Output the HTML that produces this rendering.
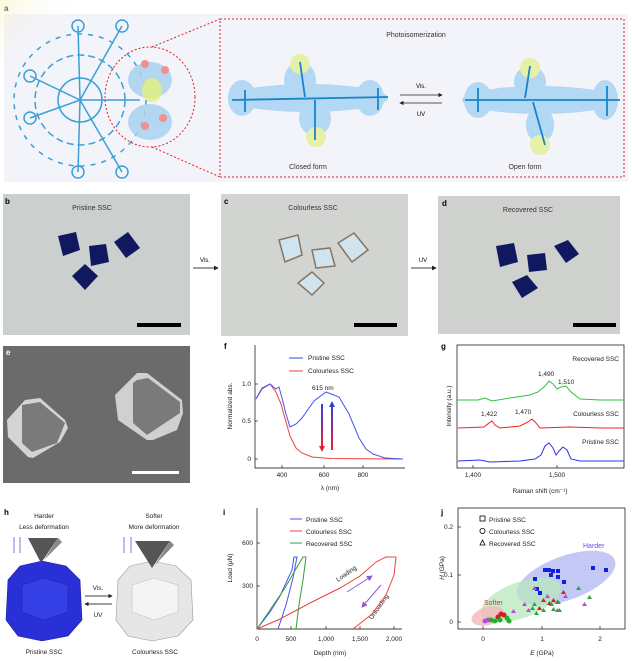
<!DOCTYPE html>
<html><head><meta charset="utf-8"><style>
body{margin:0;background:#fff}
svg{display:block;font-family:"Liberation Sans",sans-serif}
</style></head><body>
<svg width="632" height="661" viewBox="0 0 632 661" xmlns="http://www.w3.org/2000/svg">
<defs>
<radialGradient id="sun" cx="0" cy="0" r="1"><stop offset="0" stop-color="#fff45a"/><stop offset="0.5" stop-color="#fbf6a8" stop-opacity="0.7"/><stop offset="1" stop-color="#f3f3fa" stop-opacity="0"/></radialGradient>
<linearGradient id="rb" x1="0" y1="0" x2="0" y2="1"><stop offset="0" stop-color="#3040e0"/><stop offset="1" stop-color="#f02030"/></linearGradient>
<marker id="ah" markerWidth="6" markerHeight="6" refX="5" refY="3" orient="auto"><path d="M0,0 L6,3 L0,6z" fill="#222"/></marker>
<marker id="ap" markerWidth="6" markerHeight="6" refX="5" refY="3" orient="auto"><path d="M0,0 L6,3 L0,6z" fill="#8a5cd0"/></marker>
</defs>
<!-- panel a -->
<text x="4" y="11" font-size="8" font-weight="bold">a</text>
<rect x="4" y="14" width="624" height="168" fill="#f3f3fa"/>
<circle cx="5" cy="15" r="85" fill="url(#sun)"/>
<g stroke="#3aa0d8" stroke-width="1.5" fill="none">
<circle cx="80" cy="100" r="22"/><circle cx="80" cy="100" r="45" stroke-dasharray="7 4"/>
<circle cx="80" cy="100" r="66" stroke-dasharray="5 6"/>
<circle cx="78" cy="26" r="6"/><circle cx="122" cy="26" r="6"/><circle cx="78" cy="172" r="6"/><circle cx="122" cy="172" r="6"/><circle cx="30" cy="76" r="6"/><circle cx="30" cy="118" r="6"/>
<path d="M30 76 L80 100 L122 26 M30 118 L80 100 L122 172 M78 26 L80 100 L78 172 M80 100 L140 100"/>
</g>
<g fill="#a8d2f0" opacity="0.85"><ellipse cx="150" cy="80" rx="22" ry="18"/><ellipse cx="150" cy="122" rx="22" ry="18"/></g>
<ellipse cx="152" cy="90" rx="10" ry="12" fill="#e4f07a" opacity="0.8"/>
<circle cx="145" cy="64" r="4" fill="#f09090"/><circle cx="165" cy="70" r="4" fill="#f09090"/><circle cx="145" cy="126" r="4" fill="#f09090"/><circle cx="163" cy="118" r="4" fill="#f09090"/>
<ellipse cx="150" cy="97" rx="45" ry="50" fill="none" stroke="#d22" stroke-dasharray="2 2"/>
<line x1="152" y1="47" x2="220" y2="19" stroke="#d22" stroke-dasharray="2 2"/>
<line x1="152" y1="147" x2="220" y2="177" stroke="#d22" stroke-dasharray="2 2"/>
<rect x="220" y="19" width="404" height="158" fill="none" stroke="#d22" stroke-dasharray="2 2"/>
<text x="416" y="37" font-size="7" text-anchor="middle" fill="#333">Photoisomerization</text>
<g fill="#a8d4f2" opacity="0.85">
<ellipse cx="308" cy="98" rx="80" ry="14"/><ellipse cx="300" cy="80" rx="16" ry="18"/><ellipse cx="315" cy="118" rx="16" ry="18"/><ellipse cx="242" cy="98" rx="14" ry="18"/><ellipse cx="370" cy="98" rx="14" ry="18"/>
<ellipse cx="540" cy="100" rx="78" ry="14"/><ellipse cx="530" cy="82" rx="16" ry="16"/><ellipse cx="540" cy="125" rx="14" ry="18"/><ellipse cx="478" cy="100" rx="14" ry="18"/><ellipse cx="605" cy="100" rx="13" ry="20"/>
</g>
<g fill="#e7f0a8"><circle cx="300" cy="64" r="10"/><circle cx="316" cy="137" r="10"/><circle cx="530" cy="68" r="10"/><circle cx="540" cy="145" r="10"/></g>
<g stroke="#1a84c8" stroke-width="1.8" fill="none"><path d="M232 100 L388 97 M300 62 L305 97 M315 100 L315 140 M465 100 L620 100 M530 66 L525 98 M533 102 L545 145 M245 90 L245 112 M378 88 L378 110 M478 88 L478 112 M607 86 L607 116"/></g>
<line x1="400" y1="95" x2="442" y2="95" stroke="#222" stroke-width="0.7" marker-end="url(#ah)"/>
<line x1="442" y1="103" x2="400" y2="103" stroke="#222" stroke-width="0.7" marker-end="url(#ah)"/>
<text x="421" y="88" font-size="6" text-anchor="middle">Vis.</text>
<text x="421" y="116" font-size="6" text-anchor="middle">UV</text>
<text x="308" y="169" font-size="7" text-anchor="middle" fill="#333">Closed form</text>
<text x="525" y="169" font-size="7" text-anchor="middle" fill="#333">Open form</text>
<!-- b c d -->
<rect x="3" y="194" width="187" height="141" fill="#cbd0cf"/>
<rect x="221" y="194" width="187" height="142" fill="#d2d4d1"/>
<rect x="438" y="196" width="182" height="138" fill="#cfd1ce"/>
<text x="5" y="204" font-size="8" font-weight="bold">b</text>
<text x="224" y="204" font-size="8" font-weight="bold">c</text>
<text x="442" y="206" font-size="8" font-weight="bold">d</text>
<text x="92" y="210" font-size="7" text-anchor="middle" fill="#333">Pristine SSC</text>
<text x="313" y="210" font-size="7" text-anchor="middle" fill="#333">Colourless SSC</text>
<text x="528" y="212" font-size="7" text-anchor="middle" fill="#333">Recovered SSC</text>
<g fill="#101860">
<path d="M58 236 L76 232 L80 250 L63 256z"/><path d="M89 246 L106 244 L109 262 L91 266z"/><path d="M114 242 L128 232 L140 248 L126 258z"/><path d="M72 276 L85 264 L98 276 L85 290z"/>
<path d="M496 246 L514 243 L518 262 L500 267z"/><path d="M527 255 L545 253 L547 270 L529 272z"/><path d="M554 246 L568 240 L579 254 L566 263z"/><path d="M512 282 L527 275 L538 288 L522 298z"/>
</g>
<g fill="#cfe4ef" stroke="#8a7560" stroke-width="1.5">
<path d="M279 240 L298 235 L302 255 L285 262z"/><path d="M312 250 L330 248 L335 266 L316 268z"/><path d="M338 243 L354 233 L368 250 L352 262z"/><path d="M298 283 L312 272 L324 283 L312 295z"/>
</g>
<rect x="137" y="323" width="44" height="4" fill="#000"/><rect x="354" y="323" width="43" height="4" fill="#000"/><rect x="573" y="323" width="43" height="4" fill="#000"/>
<line x1="193" y1="268" x2="218" y2="268" stroke="#000" stroke-width="0.8" marker-end="url(#ah)"/>
<text x="205" y="262" font-size="6" text-anchor="middle">Vis.</text>
<line x1="411" y1="268" x2="436" y2="268" stroke="#000" stroke-width="0.8" marker-end="url(#ah)"/>
<text x="423" y="262" font-size="6" text-anchor="middle">UV</text>
<!-- e -->
<rect x="3" y="346" width="187" height="137" fill="#6b6b6b"/>
<text x="6" y="355" font-size="8" font-weight="bold" fill="#fff">e</text>
<path d="M25 400 L40 398 L65 420 L68 428 L60 442 L33 458 L28 457 L8 437 L7 420z" fill="#d4d4d4"/>
<path d="M22 405 L40 402 L65 423 L57 443 L32 452 L22 443z" fill="#7a7a7a"/>
<path d="M137 373 L147 373 L182 400 L183 413 L177 430 L153 440 L147 440 L118 420 L115 395z" fill="#d0d0d0"/>
<path d="M137 380 L148 378 L180 402 L180 413 L147 435 L133 423 L133 383z" fill="#7a7a7a"/>
<rect x="132" y="471" width="47" height="3" fill="#fff"/>
<!-- f -->
<text x="224" y="349" font-size="8" font-weight="bold">f</text>
<path d="M255 345 V468 H405" fill="none" stroke="#000" stroke-width="0.7"/>
<g stroke="#000" stroke-width="0.6"><line x1="282" y1="468" x2="282" y2="465"/><line x1="324" y1="468" x2="324" y2="465"/><line x1="363" y1="468" x2="363" y2="465"/><line x1="255" y1="459" x2="258" y2="459"/><line x1="255" y1="421" x2="258" y2="421"/><line x1="255" y1="384" x2="258" y2="384"/></g>
<g font-size="6.5" fill="#222"><text x="282" y="477" text-anchor="middle">400</text><text x="324" y="477" text-anchor="middle">600</text><text x="363" y="477" text-anchor="middle">800</text>
<text x="251" y="461" text-anchor="end">0</text><text x="251" y="423" text-anchor="end">0.5</text><text x="251" y="386" text-anchor="end">1.0</text>
<text x="330" y="490" text-anchor="middle">λ (nm)</text>
<text transform="translate(232,406) rotate(-90)" text-anchor="middle">Normalized abs.</text>
<text x="308" y="360">Pristine SSC</text><text x="308" y="373">Colourless SSC</text><text x="312" y="390">615 nm</text></g>
<line x1="289" y1="358" x2="303" y2="358" stroke="#3344ee" stroke-width="1"/><line x1="289" y1="371" x2="303" y2="371" stroke="#f04040" stroke-width="1"/>
<polyline fill="none" stroke="#f04040" stroke-width="1" points="256,399 262,388 270,384 276,392 281,404 284,415 290,436 296,448 302,453 312,457 330,458.5 403,459"/>
<polyline fill="none" stroke="#4455ee" stroke-width="1" points="256,399 262,389 270,384 276,389 279,387 282,398 286,414 290,427 296,424 302,418 314,401 326,392 339,397 349,414 359,438 366,449 373,454 385,458 403,459"/>
<rect x="321" y="404" width="2" height="44" fill="url(#rb)"/><path d="M319 446 L322 452 L325 446z" fill="#e02030"/>
<rect x="331" y="406" width="2" height="44" fill="url(#rb)"/><path d="M329 407 L332 401 L335 407z" fill="#3040e0"/>
<!-- g -->
<text x="441" y="349" font-size="8" font-weight="bold">g</text>
<rect x="457" y="345" width="167" height="123" fill="none" stroke="#000" stroke-width="0.7"/>
<g stroke="#000" stroke-width="0.6"><line x1="473" y1="468" x2="473" y2="465"/><line x1="557" y1="468" x2="557" y2="465"/></g>
<g font-size="6.5" fill="#222"><text x="473" y="477" text-anchor="middle">1,400</text><text x="557" y="477" text-anchor="middle">1,500</text>
<text x="540" y="493" text-anchor="middle">Raman shift (cm⁻¹)</text>
<text transform="translate(451,406) rotate(-90)" text-anchor="middle">Intensity (a.u.)</text>
<text x="619" y="361" text-anchor="end">Recovered SSC</text><text x="619" y="416" text-anchor="end">Colourless SSC</text><text x="619" y="444" text-anchor="end">Pristine SSC</text>
<text x="538" y="376">1,490</text><text x="558" y="384">1,510</text><text x="481" y="416">1,422</text><text x="515" y="414">1,470</text></g>
<polyline fill="none" stroke="#2ec040" stroke-width="1" points="458,400 478,400 485,398 492,401 510,398 530,395 538,392 545,386 549,381 553,384 557,389 561,387 566,386 571,392 580,399 600,400 624,400"/>
<polyline fill="none" stroke="#f02020" stroke-width="1" points="458,428 484,427 489,423 492,421 495,425 500,428 520,426 528,422 532,419 536,423 540,428 570,427 600,428 624,428"/>
<polyline fill="none" stroke="#3030ee" stroke-width="1" points="458,461 480,460 490,462 520,461 535,459 541,455 545,446 549,443 553,448 556,455 559,451 563,447 567,450 571,459 580,461 624,461"/>
<!-- h -->
<text x="4" y="515" font-size="8" font-weight="bold">h</text>
<g font-size="6.5" fill="#222" text-anchor="middle"><text x="44" y="518">Harder</text><text x="44" y="529">Less deformation</text>
<text x="154" y="518">Softer</text><text x="154" y="529">More deformation</text>
<text x="44" y="654">Pristine SSC</text><text x="155" y="654">Colourless SSC</text>
<text x="98" y="590">Vis.</text><text x="98" y="617">UV</text></g>
<g stroke="#8a5cd0" stroke-width="0.9"><line x1="14" y1="537" x2="14" y2="553"/><line x1="20" y1="537" x2="20" y2="553"/><line x1="124" y1="537" x2="124" y2="553"/><line x1="131" y1="537" x2="131" y2="553"/></g>
<path d="M8 580 L20 566 L42 561 L66 566 L80 580 L82 620 L68 636 L42 641 L18 636 L6 620z" fill="#2a30d8" stroke="#1a20a0" stroke-width="0.6"/>
<path d="M22 585 L44 578 L68 585 L68 612 L44 620 L22 612z" fill="#3440e6" stroke="#1a22a8" stroke-width="0.5"/>
<path d="M28 538 L58 538 L41 563z" fill="#555"/><path d="M58 538 L62 542 L44 560z" fill="#888"/>
<path d="M118 580 L130 566 L152 561 L176 566 L191 580 L193 620 L178 636 L152 641 L128 636 L116 620z" fill="#e6e6e6" stroke="#999" stroke-width="0.6"/>
<path d="M132 585 L154 578 L178 585 L178 612 L154 620 L132 612z" fill="#f4f4f4" stroke="#bbb" stroke-width="0.5"/>
<path d="M135 541 L170 541 L152 568z" fill="#555"/><path d="M170 541 L174 545 L155 565z" fill="#888"/>
<line x1="85" y1="596" x2="112" y2="596" stroke="#000" stroke-width="0.7" marker-end="url(#ah)"/>
<line x1="112" y1="604" x2="85" y2="604" stroke="#000" stroke-width="0.7" marker-end="url(#ah)"/>
<!-- i -->
<text x="223" y="515" font-size="8" font-weight="bold">i</text>
<path d="M257 508 V629 H402" fill="none" stroke="#000" stroke-width="0.7"/>
<g stroke="#000" stroke-width="0.6"><line x1="291" y1="629" x2="291" y2="626"/><line x1="326" y1="629" x2="326" y2="626"/><line x1="360" y1="629" x2="360" y2="626"/><line x1="394" y1="629" x2="394" y2="626"/><line x1="257" y1="543" x2="260" y2="543"/><line x1="257" y1="586" x2="260" y2="586"/></g>
<g font-size="6.5" fill="#222"><text x="257" y="641" text-anchor="middle">0</text><text x="291" y="641" text-anchor="middle">500</text><text x="326" y="641" text-anchor="middle">1,000</text><text x="360" y="641" text-anchor="middle">1,500</text><text x="394" y="641" text-anchor="middle">2,000</text>
<text x="253" y="545" text-anchor="end">600</text><text x="253" y="588" text-anchor="end">300</text>
<text x="330" y="655" text-anchor="middle">Depth (nm)</text>
<text transform="translate(232,568) rotate(-90)" text-anchor="middle">Load (μN)</text>
<text x="306" y="522">Pristine SSC</text><text x="306" y="534">Colourless SSC</text><text x="306" y="546">Recovered SSC</text>
<text transform="translate(338,582) rotate(-35)">Loading</text><text transform="translate(372,620) rotate(-55)">Unloading</text></g>
<line x1="290" y1="519" x2="302" y2="519" stroke="#4455ee"/><line x1="290" y1="531" x2="302" y2="531" stroke="#f04040"/><line x1="290" y1="543" x2="302" y2="543" stroke="#3a9a3a"/>
<g fill="none" stroke-width="1">
<polyline stroke="#4455ee" points="257,629 270,612 280,596 292,570 294,557 297,557 293,578 286,605 278,629"/>
<polyline stroke="#f04040" points="257,629 280,619 310,603 340,588 360,576 376,562 386,557 396,557 394,575 386,595 372,614 353,629"/>
<polyline stroke="#3a9a3a" points="257,629 272,607 285,588 297,567 303,557 306,557 303,580 299,605 296,629"/>
</g>
<line x1="347" y1="592" x2="372" y2="576" stroke="#8a5cd0" marker-end="url(#ap)"/>
<line x1="381" y1="585" x2="362" y2="607" stroke="#8a5cd0" marker-end="url(#ap)"/>
<!-- j -->
<text x="441" y="515" font-size="8" font-weight="bold">j</text>
<rect x="458" y="508" width="167" height="121" fill="none" stroke="#000" stroke-width="0.7"/>
<g stroke="#000" stroke-width="0.6"><line x1="483" y1="629" x2="483" y2="626"/><line x1="542" y1="629" x2="542" y2="626"/><line x1="600" y1="629" x2="600" y2="626"/><line x1="458" y1="622" x2="461" y2="622"/><line x1="458" y1="575" x2="461" y2="575"/><line x1="458" y1="527" x2="461" y2="527"/></g>
<g font-size="6.5" fill="#222"><text x="483" y="641" text-anchor="middle">0</text><text x="542" y="641" text-anchor="middle">1</text><text x="600" y="641" text-anchor="middle">2</text>
<text x="453" y="624" text-anchor="end">0</text><text x="453" y="577" text-anchor="end">0.1</text><text x="453" y="529" text-anchor="end">0.2</text>
<text x="542" y="655" text-anchor="middle"><tspan font-style="italic">E</tspan> (GPa)</text>
<text transform="translate(444,568) rotate(-90)" text-anchor="middle"><tspan font-style="italic">H</tspan> (GPa)</text>
<text x="489" y="522">Pristine SSC</text><text x="489" y="534">Colourless SSC</text><text x="489" y="546">Recovered SSC</text></g>
<rect x="480" y="516" width="5" height="5" fill="none" stroke="#000" stroke-width="0.8"/><circle cx="482.5" cy="531" r="2.6" fill="none" stroke="#000" stroke-width="0.8"/><path d="M480 545 L482.5 540 L485 545z" fill="none" stroke="#000" stroke-width="0.8"/>
<ellipse cx="566" cy="578" rx="52" ry="22" transform="rotate(-20 566 578)" fill="#aab0f0" opacity="0.7"/>
<ellipse cx="521" cy="600" rx="42" ry="18" transform="rotate(-20 521 600)" fill="#b8e8bc" opacity="0.75"/>
<ellipse cx="488" cy="616" rx="17" ry="9" transform="rotate(-15 488 616)" fill="#f4b8b8" opacity="0.8"/>
<text x="583" y="548" font-size="7" fill="#6a4ce0">Harder</text>
<text x="484" y="605" font-size="7" fill="#e03030">Softer</text>
<g fill="#1020e0">
<rect x="543" y="568" width="4" height="4"/><rect x="547" y="568" width="4" height="4"/><rect x="551" y="569" width="4" height="4"/><rect x="556" y="569" width="4" height="4"/><rect x="549" y="573" width="4" height="4"/><rect x="556" y="575" width="4" height="4"/><rect x="533" y="577" width="4" height="4"/><rect x="562" y="580" width="4" height="4"/><rect x="535" y="587" width="4" height="4"/><rect x="538" y="591" width="4" height="4"/><rect x="591" y="566" width="4" height="4"/><rect x="604" y="568" width="4" height="4"/>
</g>
<g fill="#b050e0"><path d="M532 590 l2.5 -4 l2.5 4z"/><path d="M545 598 l2.5 -4 l2.5 4z"/><path d="M563 598 l2.5 -4 l2.5 4z"/><path d="M522 606 l2.5 -4 l2.5 4z"/><path d="M511 613 l2.5 -4 l2.5 4z"/><path d="M555 612 l2.5 -4 l2.5 4z"/><path d="M582 606 l2.5 -4 l2.5 4z"/><path d="M526 612 l2.5 -4 l2.5 4z"/><circle cx="485" cy="621" r="2.5"/><circle cx="488" cy="620" r="2.5"/></g>
<g fill="#d02020"><path d="M541 602 l2.5 -4 l2.5 4z"/><path d="M547 605 l2.5 -4 l2.5 4z"/><path d="M551 602 l2.5 -4 l2.5 4z"/><path d="M555 604 l2.5 -4 l2.5 4z"/><path d="M537 610 l2.5 -4 l2.5 4z"/><path d="M561 594 l2.5 -4 l2.5 4z"/><circle cx="501" cy="614" r="2.5"/><circle cx="504" cy="615" r="2.5"/><circle cx="498" cy="617" r="2.5"/></g>
<g fill="#20b030"><path d="M530 610 l2.5 -4 l2.5 4z"/><path d="M534 615 l2.5 -4 l2.5 4z"/><path d="M541 612 l2.5 -4 l2.5 4z"/><path d="M551 611 l2.5 -4 l2.5 4z"/><path d="M557 612 l2.5 -4 l2.5 4z"/><path d="M556 604 l2.5 -4 l2.5 4z"/><path d="M549 606 l2.5 -4 l2.5 4z"/><path d="M576 590 l2.5 -4 l2.5 4z"/><path d="M587 599 l2.5 -4 l2.5 4z"/><path d="M532 606 l2.5 -4 l2.5 4z"/><circle cx="491" cy="620" r="2.5"/><circle cx="495" cy="621" r="2.5"/><circle cx="500" cy="620" r="2.5"/><circle cx="507" cy="618" r="2.5"/><circle cx="509" cy="621" r="2.5"/></g>
</svg>
</body></html>
